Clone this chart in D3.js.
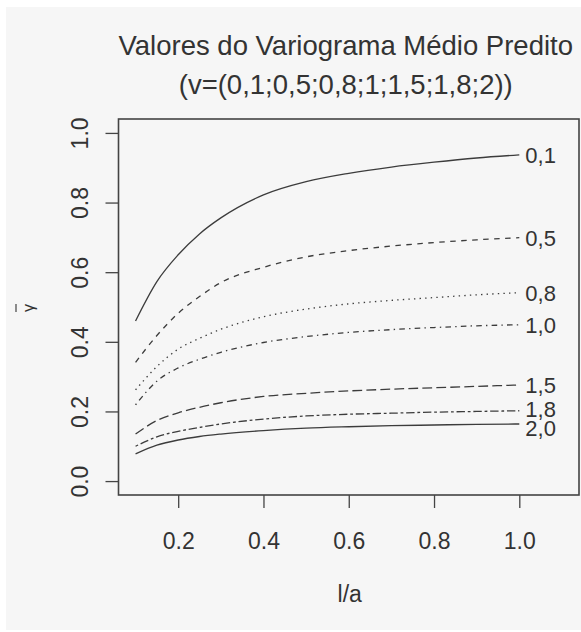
<!DOCTYPE html>
<html>
<head>
<meta charset="utf-8">
<script src="https://cdn.jsdelivr.net/npm/d3@7"></script>
<style>
  html, body { margin: 0; padding: 0; background: #ffffff; }
  svg { display: block; }
  text { font-family: "Liberation Sans", Arial, sans-serif; fill: #333333; }
</style>
</head>
<body>
<svg id="chart" width="581" height="632"></svg>
<script>
// l/a sample positions
const ratios = [0.1, 0.15, 0.2, 0.25, 0.3, 0.4, 0.5, 0.6, 0.7, 0.8, 0.9, 1.0];

// predicted mean variogram for each smoothness parameter v
const v01 = [0.460, 0.573, 0.650, 0.710, 0.756, 0.822, 0.860, 0.884, 0.902, 0.916, 0.928, 0.937];
const v05 = [0.341, 0.418, 0.482, 0.530, 0.570, 0.614, 0.644, 0.662, 0.675, 0.685, 0.693, 0.699];
const v08 = [0.262, 0.329, 0.379, 0.410, 0.436, 0.472, 0.494, 0.509, 0.519, 0.527, 0.535, 0.541];
const v10 = [0.219, 0.287, 0.325, 0.350, 0.370, 0.398, 0.415, 0.427, 0.435, 0.441, 0.446, 0.449];
const v15 = [0.135, 0.174, 0.196, 0.212, 0.225, 0.243, 0.252, 0.259, 0.264, 0.268, 0.272, 0.276];
const v18 = [0.100, 0.127, 0.143, 0.154, 0.164, 0.178, 0.187, 0.192, 0.195, 0.198, 0.200, 0.202];
const v20 = [0.078, 0.103, 0.118, 0.128, 0.135, 0.145, 0.152, 0.156, 0.159, 0.161, 0.163, 0.164];

const seriesLabels = ["0,1", "0,5", "0,8", "1,0", "1,5", "1,8", "2,0"];
const seriesValues = [v01, v05, v08, v10, v15, v18, v20];

const xTicks = [0.2, 0.4, 0.6, 0.8, 1.0];
const yTicks = [0.0, 0.2, 0.4, 0.6, 0.8, 1.0];

const titleLines = ["Valores do Variograma Médio Predito", "(v=(0,1;0,5;0,8;1;1,5;1,8;2))"];

// R-style line types, one per curve (solid, dashed, dotted, dotdash, longdash, twodash, solid)
const dashes = [null, "5.5,5.5", "1.4,4.2", "1.4,4.2,5.6,4.2", "9.8,4.2", "2.8,2.8,8.4,2.8", null];
// small vertical nudges so the two lowest end labels stay legible
const labelNudge = [0, 0, 0, 0, 0, -1.5, 4];

const svg = d3.select("#chart");

// panel background
svg.append("rect").attr("x", 6).attr("y", 7).attr("width", 575).attr("height", 623)
  .attr("fill", "#f6f6f6");

const box = { left: 118.5, right: 579, top: 119, bottom: 495 };

// axis limits padded by 4% as in base graphics
const xScale = d3.scaleLinear().domain([0.06, 1.14]).range([box.left, box.right]);
const yScale = d3.scaleLinear().domain([-0.04, 1.04]).range([box.bottom, box.top]);

const line = d3.line().x(d => xScale(d[0])).y(d => yScale(d[1])).curve(d3.curveMonotoneX);

const curves = svg.append("g");
seriesValues.forEach((vals, i) => {
  const pts = ratios.map((r, j) => [r, vals[j]]);
  curves.append("path")
    .attr("d", line(pts))
    .attr("fill", "none")
    .attr("stroke", "#3c3c3c")
    .attr("stroke-width", 1.3)
    .attr("stroke-dasharray", dashes[i]);
  curves.append("text")
    .attr("x", xScale(ratios[ratios.length - 1]) + 6)
    .attr("y", yScale(vals[vals.length - 1]) + labelNudge[i])
    .attr("dy", "0.36em")
    .attr("font-size", 22)
    .text(seriesLabels[i]);
});

// plot frame
svg.append("rect")
  .attr("x", box.left).attr("y", box.top)
  .attr("width", box.right - box.left).attr("height", box.bottom - box.top)
  .attr("fill", "none").attr("stroke", "#444444").attr("stroke-width", 1.6);

// x axis
const xAxis = d3.axisBottom(xScale).tickValues(xTicks).tickSize(13).tickPadding(0)
  .tickFormat(d3.format(".1f"));
const gx = svg.append("g").attr("transform", `translate(0,${box.bottom})`).call(xAxis);
gx.select(".domain").remove();
gx.selectAll(".tick line").attr("stroke", "#444444").attr("stroke-width", 1.3);
gx.selectAll(".tick text").attr("font-size", 23).attr("fill", "#333333")
  .attr("font-family", "Liberation Sans, Arial, sans-serif")
  .attr("dy", null).attr("y", 54);

// y axis with rotated labels
const yAxis = d3.axisLeft(yScale).tickValues(yTicks).tickSize(13).tickPadding(0)
  .tickFormat(d3.format(".1f"));
const gy = svg.append("g").attr("transform", `translate(${box.left},0)`).call(yAxis);
gy.select(".domain").remove();
gy.selectAll(".tick line").attr("stroke", "#444444").attr("stroke-width", 1.3);
gy.selectAll(".tick text").attr("font-size", 23).attr("fill", "#333333")
  .attr("font-family", "Liberation Sans, Arial, sans-serif")
  .attr("x", null).attr("dy", null)
  .attr("text-anchor", "middle")
  .attr("transform", "translate(-30.5,0) rotate(-90)");

// title
const cx = (box.left + box.right) / 2 - 3;
svg.append("text").attr("x", cx).attr("y", 55).attr("text-anchor", "middle")
  .attr("font-size", 27.5).text(titleLines[0]);
svg.append("text").attr("x", cx).attr("y", 94).attr("text-anchor", "middle")
  .attr("font-size", 27.5).text(titleLines[1]);

// x axis title
svg.append("text").attr("x", (box.left + box.right) / 2 + 1).attr("y", 602)
  .attr("text-anchor", "middle").attr("font-size", 23).text("l/a");

// y axis title: gamma with an overbar (mean variogram)
const yMid = (box.top + box.bottom) / 2 + 1;
svg.append("text").attr("transform", `translate(34,${yMid}) rotate(-90)`)
  .attr("text-anchor", "middle").attr("font-size", 16)
  .attr("font-family", "DejaVu Serif, serif")
  .text("\u03B3");
svg.append("line")
  .attr("x1", 16).attr("x2", 16)
  .attr("y1", yMid - 4).attr("y2", yMid + 4)
  .attr("stroke", "#444444").attr("stroke-width", 1.2);
</script>
</body>
</html>
